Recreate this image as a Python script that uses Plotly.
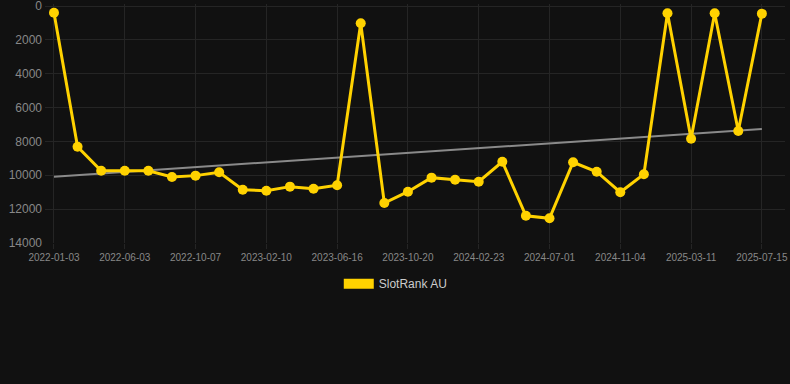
import plotly.graph_objects as go

dates = [
    "2022-01-03", "2022-02-22", "2022-04-13", "2022-06-03", "2022-07-15", "2022-08-26",
    "2022-10-07", "2022-11-18", "2022-12-30", "2023-02-10", "2023-03-24", "2023-05-05",
    "2023-06-16", "2023-07-28", "2023-09-08", "2023-10-20", "2023-12-01", "2024-01-12",
    "2024-02-23", "2024-04-05", "2024-05-18", "2024-07-01", "2024-08-12", "2024-09-23",
    "2024-11-04", "2024-12-16", "2025-01-28", "2025-03-11", "2025-04-22", "2025-06-03",
    "2025-07-15",
]
ranks = [
    400, 8310, 9730, 9730, 9730, 10100,
    10020, 9820, 10850, 10910, 10670, 10790,
    10590, 1020, 11640, 10970, 10140, 10260,
    10380, 9200, 12390, 12540, 9230, 9790,
    11000, 9940, 430, 7840, 430, 7380,
    450,
]
trend_dates = ["2022-01-03", "2025-07-15"]
trend_values = [10080, 7270]
tick_labels = dates[::3]
y_ticks = [0, 2000, 4000, 6000, 8000, 10000, 12000, 14000]
y_tick_text = [str(v) for v in y_ticks]

gold = "#FFD200"

fig = go.Figure()
fig.add_trace(go.Scatter(
    x=trend_dates, y=trend_values, mode="lines",
    line=dict(color="#8a8a8a", width=2), showlegend=False, hoverinfo="skip",
))
fig.add_trace(go.Scatter(
    x=dates, y=ranks, mode="lines+markers", name="SlotRank AU",
    line=dict(color=gold, width=3), marker=dict(color=gold, size=10),
    showlegend=False,
))
fig.add_trace(go.Scatter(
    x=[None], y=[None], mode="lines", name="SlotRank AU",
    line=dict(color=gold, width=10), showlegend=True,
))

fig.update_layout(
    width=790, height=384,
    paper_bgcolor="#111111", plot_bgcolor="#111111",
    margin=dict(l=45, r=5, t=4, b=141),
    font=dict(family="Liberation Sans, Arial, sans-serif", color="#888888"),
    xaxis=dict(
        type="category", categoryorder="array", categoryarray=dates,
        range=[-0.38, 30.98], automargin=False,
        tickvals=tick_labels, ticktext=tick_labels,
        tickfont=dict(size=10, color="#888888"),
        showgrid=True, gridcolor="#252525", gridwidth=1,
        zeroline=False, showline=False,
        ticks="outside", ticklen=5, tickcolor="#252525",
    ),
    yaxis=dict(
        range=[14000, -120], tickvals=y_ticks, ticktext=y_tick_text,
        automargin=False,
        tickfont=dict(size=12, color="#888888"),
        showgrid=True, gridcolor="#252525", gridwidth=1,
        zeroline=False, showline=False, ticklabelstandoff=2,
        ticklabeloverflow="allow",
    ),
    legend=dict(
        orientation="h", x=0.397, xanchor="left", y=-0.11, yanchor="top",
        font=dict(size=12, color="#cccccc"), bgcolor="rgba(0,0,0,0)",
    ),
)

fig.write_html("out.html", config={"displayModeBar": False},
               post_script="document.body.style.margin='0';")
